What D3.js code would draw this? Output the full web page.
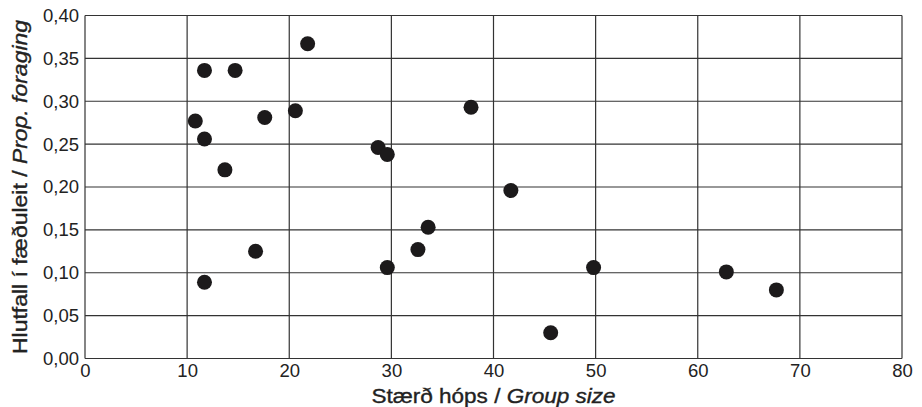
<!DOCTYPE html>
<html><head><meta charset="utf-8">
<script src="https://cdn.jsdelivr.net/npm/d3@7"></script>
<style>body{margin:0;background:#fff;} text{font-family:"Liberation Sans",Arial,sans-serif;}</style>
</head><body><svg id="c" width="922" height="407"></svg>
<script>
const groupSize = [11.7,14.7,21.8,10.8,11.7,17.6,20.6,13.7,28.7,29.6,37.8,41.7,33.6,32.6,29.6,16.7,11.7,49.8,45.6,62.8,67.7];
const propForaging = [0.336,0.336,0.367,0.277,0.256,0.281,0.289,0.220,0.246,0.238,0.293,0.196,0.153,0.127,0.106,0.125,0.089,0.106,0.030,0.101,0.080];
const xTicks = [0,10,20,30,40,50,60,70,80];
const yTicks = [0,0.05,0.10,0.15,0.20,0.25,0.30,0.35,0.40];
const xTitle = "Stærð hóps / ", xTitleIt = "Group size";
const yTitle = "Hlutfall í fæðuleit / ", yTitleIt = "Prop. foraging";

const svg = d3.select("#c");
const m = {l:85, r:20, t:15.5, b:48.5};
const W = 922, H = 407;
const x = d3.scaleLinear().domain([0,80]).range([m.l, W-m.r]);
const y = d3.scaleLinear().domain([0,0.4]).range([H-m.b, m.t]);
const fmt = d => d3.format(".2f")(d).replace(".", ",");

const g = svg.append("g");
g.selectAll("line.v").data(xTicks).join("line")
  .attr("x1", d=>x(d)).attr("x2", d=>x(d)).attr("y1", y(0)).attr("y2", y(0.4))
  .attr("stroke", "#333").attr("stroke-width", 1.2);
g.selectAll("line.h").data(yTicks).join("line")
  .attr("y1", d=>y(d)).attr("y2", d=>y(d)).attr("x1", x(0)).attr("x2", x(80))
  .attr("stroke", "#333").attr("stroke-width", 1.2);

const xAxis = svg.append("g").attr("transform", `translate(0,${y(0)})`)
  .call(d3.axisBottom(x).tickValues(xTicks).tickSize(0).tickPadding(5).tickFormat(d3.format("d")));
xAxis.select(".domain").remove();
xAxis.selectAll("text").attr("font-size", 18.5).attr("fill", "#222").style("font-family","'Liberation Sans',Arial,sans-serif");

const yAxis = svg.append("g").attr("transform", `translate(${x(0)},0)`)
  .call(d3.axisLeft(y).tickValues(yTicks).tickSize(0).tickPadding(6).tickFormat(fmt));
yAxis.select(".domain").remove();
yAxis.selectAll("text").attr("font-size", 18.5).attr("fill", "#222").style("font-family","'Liberation Sans',Arial,sans-serif");

svg.append("g").selectAll("circle").data(groupSize.map((v,i)=>[v, propForaging[i]])).join("circle")
  .attr("cx", d=>x(d[0])).attr("cy", d=>y(d[1])).attr("r", 7.5).attr("fill", "#1c1a1b");

const xt = svg.append("text").attr("x", (x(0)+x(80))/2).attr("y", 403).attr("text-anchor","middle")
  .attr("font-size", 19.5).attr("fill", "#222").attr("stroke", "#222").attr("stroke-width", 0.35)
  .attr("textLength", 244).attr("lengthAdjust", "spacingAndGlyphs");
xt.append("tspan").text(xTitle);
xt.append("tspan").attr("font-style","italic").text(xTitleIt);

const yt = svg.append("text").attr("transform", `translate(27,${(y(0)+y(0.4))/2}) rotate(-90)`).attr("text-anchor","middle")
  .attr("font-size", 19.5).attr("fill", "#222").attr("stroke", "#222").attr("stroke-width", 0.35)
  .attr("textLength", 334).attr("lengthAdjust", "spacingAndGlyphs");
yt.append("tspan").text(yTitle);
yt.append("tspan").attr("font-style","italic").text(yTitleIt);
</script></body></html>
